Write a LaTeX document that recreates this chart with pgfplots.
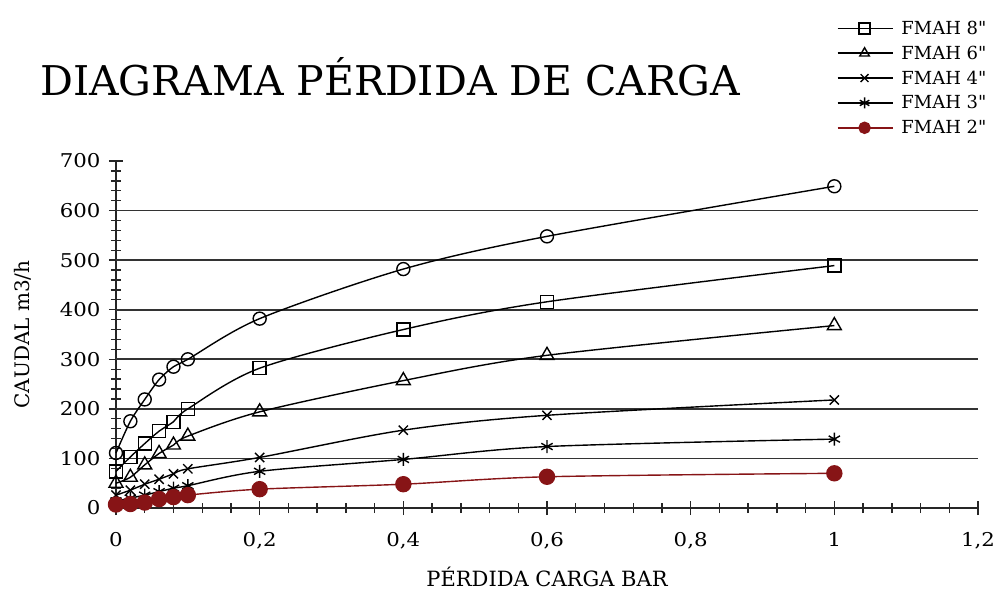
\documentclass[border=0pt]{standalone}
\usepackage{fontspec}
\setmainfont{DejaVu Serif}
\newfontfamily\numfont{DejaVu Serif}[FakeStretch=1.12]
\newfontfamily\legfont{DejaVu Serif}[Ligatures=TeXOff]
\usepackage{pgfplots}
\pgfplotsset{compat=1.18}
\definecolor{redline}{RGB}{135,20,22}

\begin{document}
\begin{tikzpicture}
\path[use as bounding box] (0,0) rectangle (994pt,592pt);
\begin{axis}[
  at={(116pt,84pt)}, anchor=south west,
  scale only axis, width=862pt, height=347pt,
  xmin=0, xmax=1.2, ymin=0, ymax=700,
  axis lines*=left,
  axis line style={line width=1.6pt, black!85},
  xtick={0,0.2,0.4,0.6,0.8,1,1.2}, minor x tick num=4,
  ytick={0,100,200,300,400,500,600,700}, minor y tick num=4,
  tick align=center,
  major tick length=14pt, minor tick length=10pt,
  every tick/.style={line width=1.4pt, black!85},
  extra y ticks={100,200,300,400,500,600},
  extra y tick labels={},
  extra y tick style={grid=major, major tick length=0pt},
  major grid style={line width=1.7pt, black!80},
  /pgf/number format/assume math mode=true,
  /pgf/number format/use comma,
  ticklabel style={font=\numfont\fontsize{19}{19}\selectfont},
  xticklabel style={yshift=-14pt},
  yticklabel style={xshift=-5pt},
  xlabel={PÉRDIDA CARGA BAR},
  ylabel={CAUDAL m3/h},
  xlabel style={at={(axis description cs:0.5,-0.2)}, anchor=center, font=\fontsize{21}{21}\selectfont},
  ylabel style={at={(axis description cs:-0.108,0.5)}, anchor=center, font=\fontsize{20}{20}\selectfont},
  legend style={at={(0.836,1.41)}, anchor=north west, draw=none, fill=none,
    font=\legfont\fontsize{18}{18}\selectfont, row sep=6pt, inner sep=0pt,
    /tikz/every odd column/.append style={column sep=6pt}},
  legend cell align=left,
  legend image code/.code={\draw[#1, line width=1.5pt, mark size=5.5pt, mark repeat=2, mark phase=2] plot coordinates {(0pt,0pt) (27pt,0pt) (55pt,0pt)};},
  every axis plot/.append style={line width=1.4pt, smooth},
  clip=false,
]
% FMAH 10" (sin leyenda)
\addplot[black, mark=o, mark size=6.5pt, mark options={solid, fill=white, line width=1.4pt}, forget plot]
  coordinates {(0,111)(0.02,175)(0.04,219)(0.06,259)(0.08,285)(0.1,300)(0.2,382)(0.4,482)(0.6,548)(1,649)};
\addplot[black, mark=square, mark size=6.5pt, mark options={solid, fill=white, line width=1.4pt}]
  coordinates {(0,74)(0.02,103)(0.04,130)(0.06,155)(0.08,174)(0.1,200)(0.2,282)(0.4,360)(0.6,416)(1,489)};
\addlegendentry{FMAH 8"}
\addplot[black, mark=triangle, mark size=8pt, mark options={solid, fill=white, line width=1.4pt}]
  coordinates {(0,50)(0.02,62)(0.04,87)(0.06,110)(0.08,127)(0.1,145)(0.2,194)(0.4,257)(0.6,308)(1,368)};
\addlegendentry{FMAH 6"}
\addplot[black, mark=x, mark size=6.5pt, mark options={solid, line width=1.4pt}]
  coordinates {(0,26)(0.02,36)(0.04,48)(0.06,58)(0.08,69)(0.1,79)(0.2,102)(0.4,157)(0.6,187)(1,218)};
\addlegendentry{FMAH 4"}
\addplot[black, mark=asterisk, mark size=6.5pt, mark options={solid, line width=1.4pt}]
  coordinates {(0,14)(0.02,20)(0.04,26)(0.06,33)(0.08,40)(0.1,45)(0.2,74)(0.4,98)(0.6,124)(1,139)};
\addlegendentry{FMAH 3"}
\addplot[redline, mark=*, mark size=7.5pt, mark options={solid, fill=redline}]
  coordinates {(0,7)(0.02,8)(0.04,11)(0.06,18)(0.08,22)(0.1,26)(0.2,38)(0.4,48)(0.6,63)(1,70)};
\addlegendentry{FMAH 2"}
\end{axis}
\node[anchor=west, font=\fontsize{41}{41}\selectfont, inner sep=0pt] at (40pt,515pt) {DIAGRAMA PÉRDIDA DE CARGA};
\end{tikzpicture}
\end{document}
